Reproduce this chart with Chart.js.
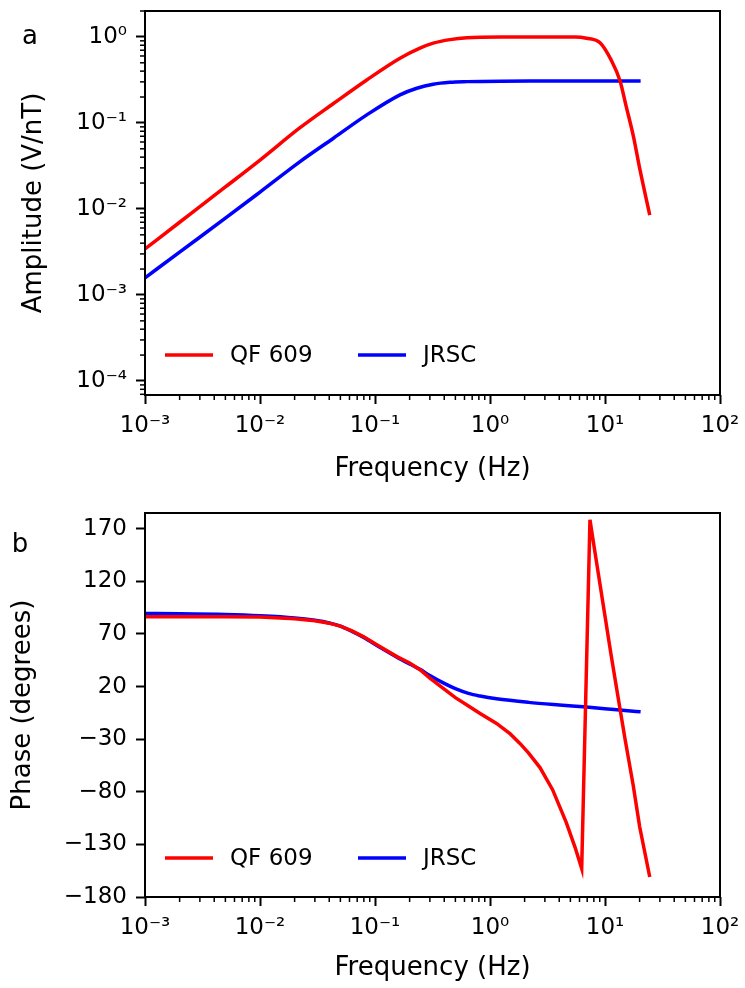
<!DOCTYPE html>
<html>
<head>
<meta charset="utf-8">
<script src="https://cdn.jsdelivr.net/npm/chart.js@4.4.1/dist/chart.umd.min.js"></script>
<style>
  body { margin: 0; background: #fff; }
  canvas { display: block; }
</style>
</head>
<body>
<canvas id="ampChart" width="745" height="490"></canvas>
<canvas id="phaseChart" width="745" height="498"></canvas>
<script>
// QF 609
const qfAmpFreq   = [0.001, 0.002, 0.005, 0.01, 0.0223, 0.0435, 0.0848, 0.165, 0.246, 0.321, 0.449, 0.63, 1.23, 3,
                     5.5, 6.9, 9.1, 11.3, 13.5, 15.3, 17.7, 20.2, 24.5];
const qfAmp       = [0.00343, 0.0070, 0.0180, 0.037, 0.088, 0.168, 0.316, 0.565, 0.74, 0.845, 0.93, 0.98, 1.0, 1.0,
                     1.0, 0.966, 0.85, 0.54, 0.31, 0.155, 0.069, 0.028, 0.0085];
const qfPhaseFreq = [0.001, 0.002, 0.005, 0.01, 0.02, 0.03, 0.04, 0.05, 0.063, 0.079, 0.11, 0.155, 0.2, 0.246, 0.3,
                     0.4, 0.5, 0.65, 0.82, 1.14, 1.5, 1.82, 2.16, 2.72, 3.5, 4.6, 5.5, 6.27, 7.4, 8.2, 9.67, 11.3,
                     13.5, 15, 17.6, 20, 24.5];
const qfPhase     = [86.5, 86.5, 86.4, 86.1, 84.5, 82.5, 80.3, 77.5, 73, 67.5, 58, 48.5, 42.5, 36, 28,
                     17.5, 9.5, 1.5, -5.5, -15, -25, -34, -43, -57, -78, -109, -133, -153, 178.6, 147, 97, 50,
                     -1, -31, -74, -113, -161];

// JRSC
const jrAmpFreq   = [0.001, 0.002, 0.005, 0.01, 0.0223, 0.0435, 0.0848, 0.165, 0.231, 0.321, 0.449, 0.63, 1.23, 3, 10, 20.4];
const jrAmp       = [0.00158, 0.00315, 0.0078, 0.0157, 0.0355, 0.0664, 0.124, 0.212, 0.253, 0.282, 0.297, 0.302, 0.306,
                     0.307, 0.307, 0.307];
const jrPhaseFreq = [0.001, 0.002, 0.005, 0.01, 0.02, 0.03, 0.04, 0.05, 0.063, 0.079, 0.11, 0.155, 0.2, 0.246, 0.3,
                     0.4, 0.5, 0.65, 0.82, 1.14, 2.16, 4, 6.9, 12, 20.4];
const jrPhase     = [89.5, 89.3, 88.6, 87.4, 85.3, 83, 80.5, 77.5, 72.5, 67, 57.5, 48, 41.5, 36.4, 30.5,
                     23, 18, 13.5, 11, 8.4, 5, 2.5, 0.5, -1.8, -4];

const seriesNames = ['QF 609', 'JRSC'];
const freqTicks  = [0.001, 0.01, 0.1, 1, 10, 100];
const ampTicks   = [0.0001, 0.001, 0.01, 0.1, 1];
const phaseTicks = [-180, -130, -80, -30, 20, 70, 120, 170];

Chart.defaults.font.family = 'DejaVu Sans';
Chart.defaults.font.size = 23;
Chart.defaults.color = '#000';

const sup = { '-': '\u207B', '0': '\u2070', '1': '\u00B9', '2': '\u00B2', '3': '\u00B3', '4': '\u2074' };
const pow10Label = v => '10' + String(Math.round(Math.log10(v))).split('').map(c => sup[c]).join('');

const toPoints = (xs, ys) => xs.map((x, i) => ({ x: x, y: ys[i] }));

// box, minor log ticks, panel letter and legend inside the axes
const framePlugin = {
  id: 'frame',
  afterDraw(chart, args, opts) {
    const { ctx, chartArea: a, scales } = chart;
    ctx.save();
    ctx.strokeStyle = '#000';
    ctx.lineWidth = 1.5;
    ['x', 'y'].forEach(id => {
      const s = scales[id];
      if (s.type !== 'logarithmic') return;
      for (let e = Math.floor(Math.log10(s.min)); e < Math.ceil(Math.log10(s.max)); e++) {
        for (let k = 2; k < 10; k++) {
          const v = k * Math.pow(10, e);
          if (v < s.min || v > s.max) continue;
          const p = s.getPixelForValue(v);
          ctx.beginPath();
          if (id === 'x') { ctx.moveTo(p, a.bottom); ctx.lineTo(p, a.bottom + 5); }
          else { ctx.moveTo(a.left, p); ctx.lineTo(a.left - 5, p); }
          ctx.stroke();
        }
      }
    });
    ctx.lineWidth = 2;
    ctx.strokeRect(a.left, a.top, a.right - a.left, a.bottom - a.top);

    ctx.fillStyle = '#000';
    ctx.textAlign = 'center';
    ctx.textBaseline = 'middle';
    ctx.font = '26px "DejaVu Sans"';
    ctx.fillText(opts.letter, opts.letterX, opts.letterY);

    // legend
    ctx.font = '23px "DejaVu Sans"';
    ctx.textAlign = 'left';
    const y = a.bottom - opts.legendOffset;
    chart.data.datasets.forEach((ds, i) => {
      const x = a.left + 20 + i * 193;
      ctx.strokeStyle = ds.borderColor;
      ctx.lineWidth = ds.borderWidth;
      ctx.beginPath();
      ctx.moveTo(x, y);
      ctx.lineTo(x + 48, y);
      ctx.stroke();
      ctx.fillText(ds.label, x + 65, y + 1);
    });
    ctx.restore();
  }
};

const tickGrid = { drawOnChartArea: false, tickLength: 9, tickWidth: 2, tickColor: '#000' };

function freqAxis(height, titlePad) {
  return {
    type: 'logarithmic',
    min: 0.001,
    max: 100,
    afterBuildTicks: s => { s.ticks = freqTicks.map(v => ({ value: v })); },
    afterFit: s => { s.height = height; s.paddingLeft = 0; s.paddingRight = 0; },
    ticks: { callback: v => pow10Label(v), autoSkip: false, maxRotation: 0, padding: 8 },
    grid: tickGrid,
    border: { display: false },
    title: { display: true, text: 'Frequency (Hz)', font: { size: 26 }, padding: { top: 0, bottom: titlePad } }
  };
}

new Chart(document.getElementById('ampChart'), {
  type: 'line',
  data: {
    datasets: [
      { label: seriesNames[0], data: toPoints(qfAmpFreq, qfAmp), borderColor: '#ff0000', borderWidth: 3.5,
        pointRadius: 0, cubicInterpolationMode: 'monotone' },
      { label: seriesNames[1], data: toPoints(jrAmpFreq, jrAmp), borderColor: '#0000ff', borderWidth: 3.5,
        pointRadius: 0, cubicInterpolationMode: 'monotone' }
    ]
  },
  options: {
    responsive: false,
    animation: false,
    devicePixelRatio: 1,
    layout: { padding: { top: 11, right: 25, left: 0, bottom: 0 } },
    plugins: {
      legend: { display: false },
      tooltip: { enabled: false },
      frame: { letter: 'a', letterX: 30, letterY: 37, legendOffset: 40 }
    },
    scales: {
      x: freqAxis(95, 5),
      y: {
        type: 'logarithmic',
        min: 6.87e-5,
        max: 2.0,
        afterBuildTicks: s => { s.ticks = ampTicks.map(v => ({ value: v })); },
        afterFit: s => { s.width = 145; s.paddingTop = 0; s.paddingBottom = 0; },
        ticks: { callback: v => pow10Label(v), autoSkip: false, padding: 9 },
        grid: tickGrid,
        border: { display: false },
        title: { display: true, text: 'Amplitude (V/nT)', font: { size: 26 }, padding: { top: 19, bottom: 0 } }
      }
    }
  },
  plugins: [framePlugin]
});

new Chart(document.getElementById('phaseChart'), {
  type: 'line',
  data: {
    datasets: [
      { label: seriesNames[0], data: toPoints(qfPhaseFreq, qfPhase), borderColor: '#ff0000', borderWidth: 3.5,
        pointRadius: 0, tension: 0 },
      { label: seriesNames[1], data: toPoints(jrPhaseFreq, jrPhase), borderColor: '#0000ff', borderWidth: 3.5,
        pointRadius: 0, cubicInterpolationMode: 'monotone' }
    ]
  },
  options: {
    responsive: false,
    animation: false,
    devicePixelRatio: 1,
    layout: { padding: { top: 23, right: 25, left: 0, bottom: 0 } },
    plugins: {
      legend: { display: false },
      tooltip: { enabled: false },
      frame: { letter: 'b', letterX: 20, letterY: 55, legendOffset: 39 }
    },
    scales: {
      x: freqAxis(91, 4),
      y: {
        type: 'linear',
        min: -180,
        max: 185,
        afterBuildTicks: s => { s.ticks = phaseTicks.map(v => ({ value: v })); },
        afterFit: s => { s.width = 145; s.paddingTop = 0; s.paddingBottom = 0; },
        ticks: { callback: v => String(v).replace('-', '\u2212'), autoSkip: false, padding: 9 },
        grid: tickGrid,
        border: { display: false },
        title: { display: true, text: 'Phase (degrees)', font: { size: 26 }, padding: { top: 8, bottom: 0 } }
      }
    }
  },
  plugins: [framePlugin]
});
</script>
</body>
</html>
